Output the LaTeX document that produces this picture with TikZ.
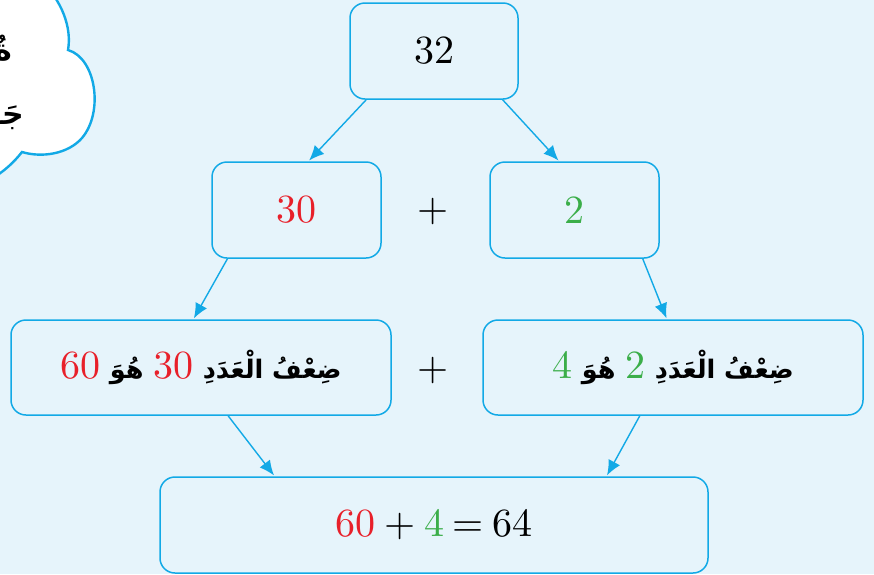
\documentclass[tikz,border=0pt]{standalone}
\usepackage{fontspec}
\usetikzlibrary{arrows.meta,calc}
\TeXXeTstate=1
\newfontfamily\arabicfont[Script=Arabic]{DejaVu Sans}
\newfontfamily\numfont{lmroman10-regular.otf}
\definecolor{bg}{HTML}{E6F4FB}
\definecolor{cyanline}{HTML}{12A9E6}
\definecolor{numred}{HTML}{E8202A}
\definecolor{numgreen}{HTML}{3BAE49}
\newcommand\numsize{\numfont\fontsize{40}{46}\selectfont}
\newcommand\arsize{\arabicfont\bfseries\fontsize{25.5}{30}\selectfont}
\newcommand\artxt[1]{\hbox{\arsize\beginR #1\endR}}
\newcommand\gap{\hspace{0.24em}}
\begin{document}
\begin{tikzpicture}[x=1pt,y=-1pt,
  box/.style={draw=cyanline, line width=1.5pt, rounded corners=15pt, fill=bg,
              minimum width=#1, inner sep=0pt},
  conn/.style={draw=cyanline, line width=1.4pt,
               -{Latex[length=15pt,width=13pt]}, shorten >=1pt}]
\useasboundingbox (0,0) rectangle (874,574);
\clip (0,0) rectangle (874,574);
\fill[bg] (0,0) rectangle (874,574);

% cloud
\filldraw[draw=cyanline, fill=white, line width=2.4pt]
  (-20,-20) -- (40,-20)
  .. controls (62,0) and (72,28) .. (68,50)
  .. controls (96,58) and (104,112) .. (82,138)
  .. controls (68,154) and (42,158) .. (22,152)
  .. controls (14,162) and (6,170) .. (-10,180) -- cycle;
\node[anchor=east, inner sep=0pt] (cloudA) at (12,48)
  {\arabicfont\bfseries\fontsize{30}{34}\selectfont\beginR ةٌ\endR};
\node[anchor=east, inner sep=0pt] (cloudB) at (24,118)
  {\arabicfont\bfseries\fontsize{30}{34}\selectfont\beginR جَـ\endR};

% boxes
\node[box=168pt, minimum height=96pt] (n32) at (434,51) {\numsize 32};
\node[box=169pt, minimum height=96pt] (n30) at (296.5,210) {\numsize\color{numred}30};
\node[box=169pt, minimum height=96pt] (n2) at (574.5,210) {\numsize\color{numgreen}2};
\node[inner sep=0pt] (plusA) at (433,211) {\numsize +};

\node[box=380pt, minimum height=95pt] (d30) at (201,367.5)
  {\numsize\textcolor{numred}{60}\gap\artxt{هُوَ}\gap\textcolor{numred}{30}\gap\artxt{ضِعْفُ الْعَدَدِ}};
\node[box=380pt, minimum height=95pt] (d2) at (673,367.5)
  {\numsize\textcolor{numgreen}{4}\gap\artxt{هُوَ}\gap\textcolor{numgreen}{2}\gap\artxt{ضِعْفُ الْعَدَدِ}};
\node[inner sep=0pt] (plusB) at (433,370) {\numsize +};

\node[box=548pt, minimum height=96pt] (sum) at (434,525)
  {\numsize\textcolor{numred}{60}\hspace{0.22em}+\hspace{0.22em}\textcolor{numgreen}{4}\hspace{0.22em}=\hspace{0.22em}64};

% connectors
\draw[conn] ($(n32.south west)!0.10!(n32.south east)$) -- ($(n30.north west)!0.57!(n30.north east)$);
\draw[conn] ($(n32.south west)!0.905!(n32.south east)$) -- ($(n2.north west)!0.41!(n2.north east)$);
\draw[conn] ($(n30.south west)!0.095!(n30.south east)$) -- ($(d30.north west)!0.48!(d30.north east)$);
\draw[conn] ($(n2.south west)!0.90!(n2.south east)$) -- ($(d2.north west)!0.484!(d2.north east)$);
\draw[conn] ($(d30.south west)!0.571!(d30.south east)$) -- ($(sum.north west)!0.21!(sum.north east)$);
\draw[conn] ($(d2.south west)!0.413!(d2.south east)$) -- ($(sum.north west)!0.814!(sum.north east)$);
\end{tikzpicture}
\end{document}
